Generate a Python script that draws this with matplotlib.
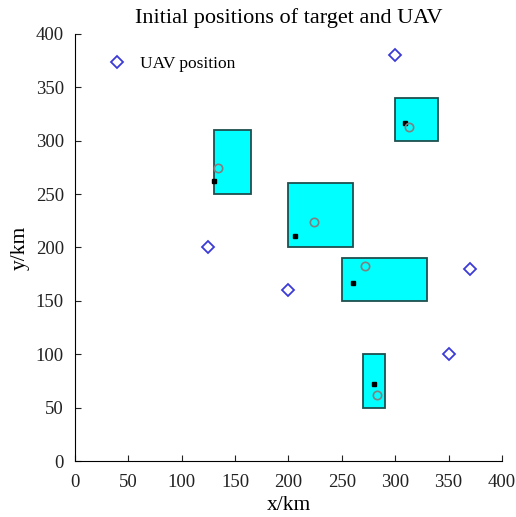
import matplotlib.pyplot as plt
from matplotlib.patches import Rectangle

plt.rcParams['font.family'] = ['Liberation Serif', 'DejaVu Serif']

# target regions: x0, y0, width, height
reg_x = [130, 200, 300, 250, 270]
reg_y = [250, 200, 300, 150, 50]
reg_w = [35, 60, 40, 80, 20]
reg_h = [60, 60, 40, 40, 50]

# target points
tgt_x = [130, 206, 309, 260, 280]
tgt_y = [262, 211, 317, 167, 72]
circ_x = [134, 224, 313, 272, 283]
circ_y = [274, 224, 313, 183, 62]

# UAV positions
uav_x = [125, 200, 300, 370, 350]
uav_y = [200, 160, 380, 180, 100]

fig = plt.figure(figsize=(5.16, 5.17), dpi=100)
ax = fig.add_axes([0.1453, 0.1083, 0.8275, 0.826])

for x0, y0, w, h in zip(reg_x, reg_y, reg_w, reg_h):
    ax.add_patch(Rectangle((x0, y0), w, h, facecolor='#00ffff',
                           edgecolor='#1f4f4f', linewidth=1.3, zorder=1))

ax.plot(uav_x, uav_y, 'D', color='#3b3bd6', markerfacecolor='none',
        markersize=6.5, markeredgewidth=1.3, linestyle='none',
        label='UAV position', zorder=3)
ax.plot(tgt_x, tgt_y, 's', color='black', markersize=3, linestyle='none', zorder=3)
ax.plot(circ_x, circ_y, 'o', color='#808080', markerfacecolor='none',
        markersize=6, markeredgewidth=1.2, linestyle='none', zorder=3)

ax.set_xlim(0, 400)
ax.set_ylim(0, 400)
ax.set_xticks(range(0, 401, 50))
ax.set_yticks(range(0, 401, 50))
ax.spines['top'].set_visible(False)
ax.spines['right'].set_visible(False)
ax.tick_params(direction='in', labelsize=13.5, length=4, colors='#222222')
ax.tick_params(axis='x', pad=9)
ax.tick_params(axis='y', pad=8)
ax.set_xlabel('x/km', fontsize=15.5, labelpad=4)
ax.set_ylabel('y/km', fontsize=15.5, labelpad=4)
ax.set_title('Initial positions of target and UAV', fontsize=16, pad=8)
ax.legend(loc='upper left', frameon=False, fontsize=12.5, handletextpad=0.5,
          handlelength=1.6, bbox_to_anchor=(0.03, 0.985))

fig.savefig('out.png', dpi=100)
